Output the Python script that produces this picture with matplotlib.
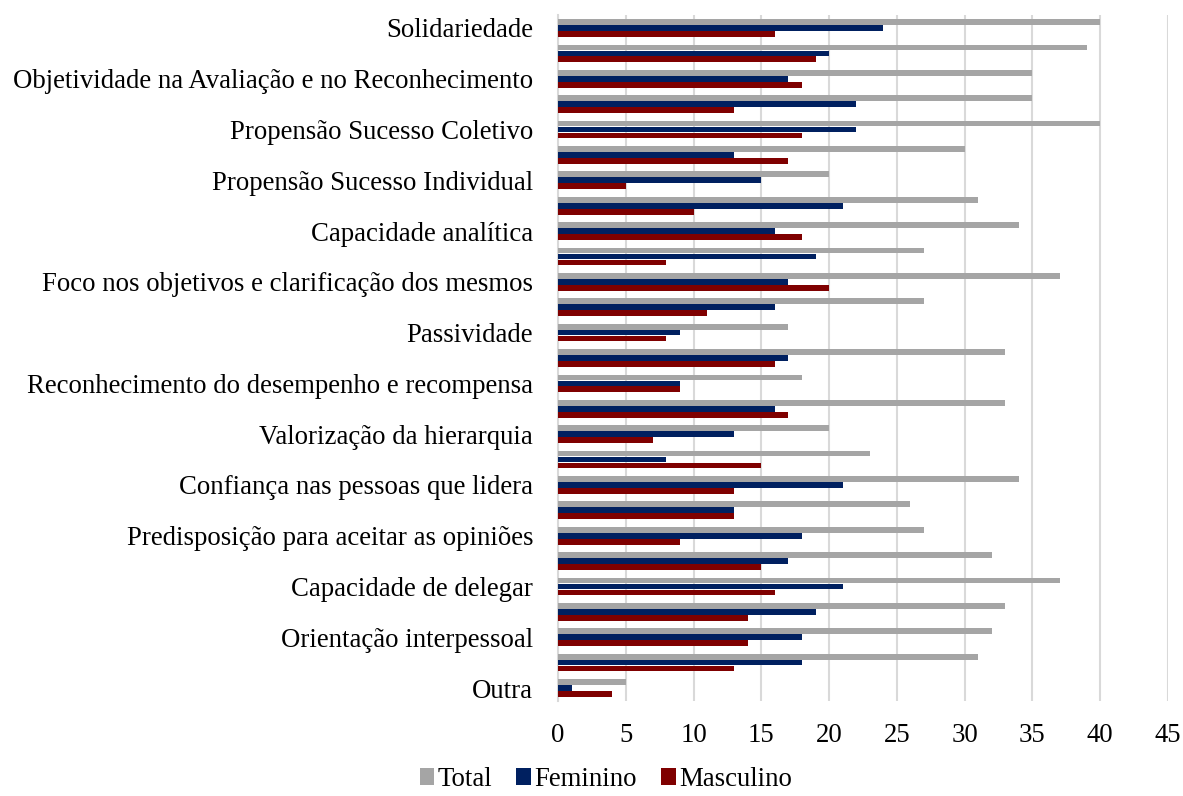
import matplotlib
matplotlib.use("Agg")
import matplotlib.pyplot as plt
import numpy as np

plt.rcParams['font.family'] = ['Liberation Serif', 'DejaVu Serif']

# Categories top to bottom; only every other name is printed on the axis
categories = [
    "Solidariedade", "",
    "Objetividade na Avaliação e no Reconhecimento", "",
    "Propensão Sucesso Coletivo", "",
    "Propensão Sucesso Individual", "",
    "Capacidade analítica", "",
    "Foco nos objetivos e clarificação dos mesmos", "",
    "Passividade", "",
    "Reconhecimento do desempenho e recompensa", "",
    "Valorização da hierarquia", "",
    "Confiança nas pessoas que lidera", "",
    "Predisposição para aceitar as opiniões", "",
    "Capacidade de delegar", "",
    "Orientação interpessoal", "",
    "Outra",
]

total = [40, 39, 35, 35, 40, 30, 20, 31, 34, 27, 37, 27, 17, 33, 18, 33,
         20, 23, 34, 26, 27, 32, 37, 33, 32, 31, 5]
feminino = [24, 20, 17, 22, 22, 13, 15, 21, 16, 19, 17, 16, 9, 17, 9, 16,
            13, 8, 21, 13, 18, 17, 21, 19, 18, 18, 1]
masculino = [16, 19, 18, 13, 18, 17, 5, 10, 18, 8, 20, 11, 8, 16, 9, 17,
             7, 15, 13, 13, 9, 15, 16, 14, 14, 13, 4]

series = [("Total", total, "#A5A5A5"),
          ("Feminino", feminino, "#002060"),
          ("Masculino", masculino, "#7F0000")]

FS = 19.3

fig = plt.figure(figsize=(11.83, 7.96), dpi=100)
ax = fig.add_axes([0.4717, 0.1197, 0.9873 - 0.4717, 0.9808 - 0.1197])

y = np.arange(len(categories))
step = 0.235
height = 0.225
handles = []
for k, (name, vals, color) in enumerate(series):
    b = ax.barh(y + (k - 1) * step, vals, height=height, color=color,
                label=name, zorder=3)
    handles.append(b)

ax.set_ylim(len(categories) - 0.5, -0.5)
ax.set_xlim(0, 45)
ax.set_xticks(np.arange(0, 46, 5))
ax.grid(axis='x', color='#D9D9D9', linewidth=1.5, zorder=0)
ax.grid(axis='y', visible=False)

labeled = [i for i, c in enumerate(categories) if c]
ax.set_yticks(labeled)
ax.set_yticklabels([categories[i] for i in labeled], fontsize=FS)
ax.tick_params(axis='y', length=0, pad=18)
ax.tick_params(axis='x', length=0, pad=16, labelsize=FS)

for s in ['top', 'right', 'bottom']:
    ax.spines[s].set_visible(False)
ax.spines['left'].set_color('#D9D9D9')
ax.spines['left'].set_linewidth(1.5)

fig.legend(handles=handles, loc='lower center', bbox_to_anchor=(0.512, 0.0),
           ncol=3, frameon=False, fontsize=FS, handlelength=0.55,
           handleheight=0.55, handletextpad=0.12, columnspacing=0.9,
           borderpad=0.05, borderaxespad=0.1)

fig.savefig("out.png", dpi=100)
